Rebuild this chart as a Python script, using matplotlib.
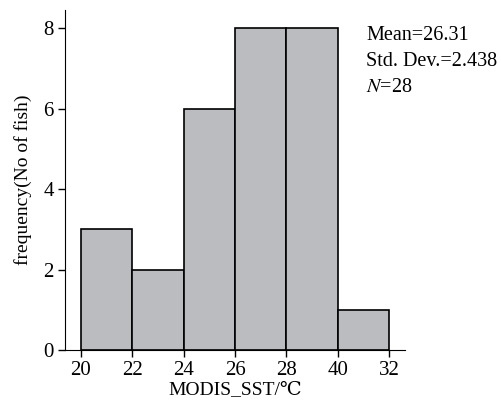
import matplotlib
matplotlib.use("Agg")
import matplotlib.pyplot as plt

plt.rcParams['font.family'] = ['Liberation Serif', 'DejaVu Serif']
plt.rcParams['mathtext.fontset'] = 'stix'

# histogram bins and counts
bin_edges = [20, 22, 24, 26, 28, 30, 32]
counts = [3, 2, 6, 8, 8, 1]
tick_labels = ["20", "22", "24", "26", "28", "40", "32"]
stats_lines = ["Mean=26.31", "Std. Dev.=2.438", "$\\it{N}$=28"]

fig = plt.figure(figsize=(5.02, 4.04), dpi=100)
ax = fig.add_axes([0.1295, 0.1337, 0.6775, 0.8413])

widths = [b - a for a, b in zip(bin_edges[:-1], bin_edges[1:])]
ax.bar(bin_edges[:-1], counts, width=widths, align='edge',
       color='#bbbcc0', edgecolor='black', linewidth=1.2)

ax.set_xlim(19.38, 32.62)
ax.set_ylim(0, 8.45)
ax.set_xticks(bin_edges)
ax.set_xticklabels(tick_labels)
ax.set_yticks([0, 2, 4, 6, 8])
ax.tick_params(labelsize=15, length=5, width=1, direction='out', pad=3)
ax.spines['top'].set_visible(False)
ax.spines['right'].set_visible(False)

ax.set_xlabel("MODIS_SST/℃", fontsize=14, labelpad=1)
ax.set_ylabel("frequency(No of fish)", fontsize=14, labelpad=8)

for i, line in enumerate(stats_lines):
    fig.text(366 / 502, 1 - (36 + 25.5 * i) / 404, line, fontsize=14.5,
             va='center', ha='left')

fig.savefig("out.png", dpi=100)
